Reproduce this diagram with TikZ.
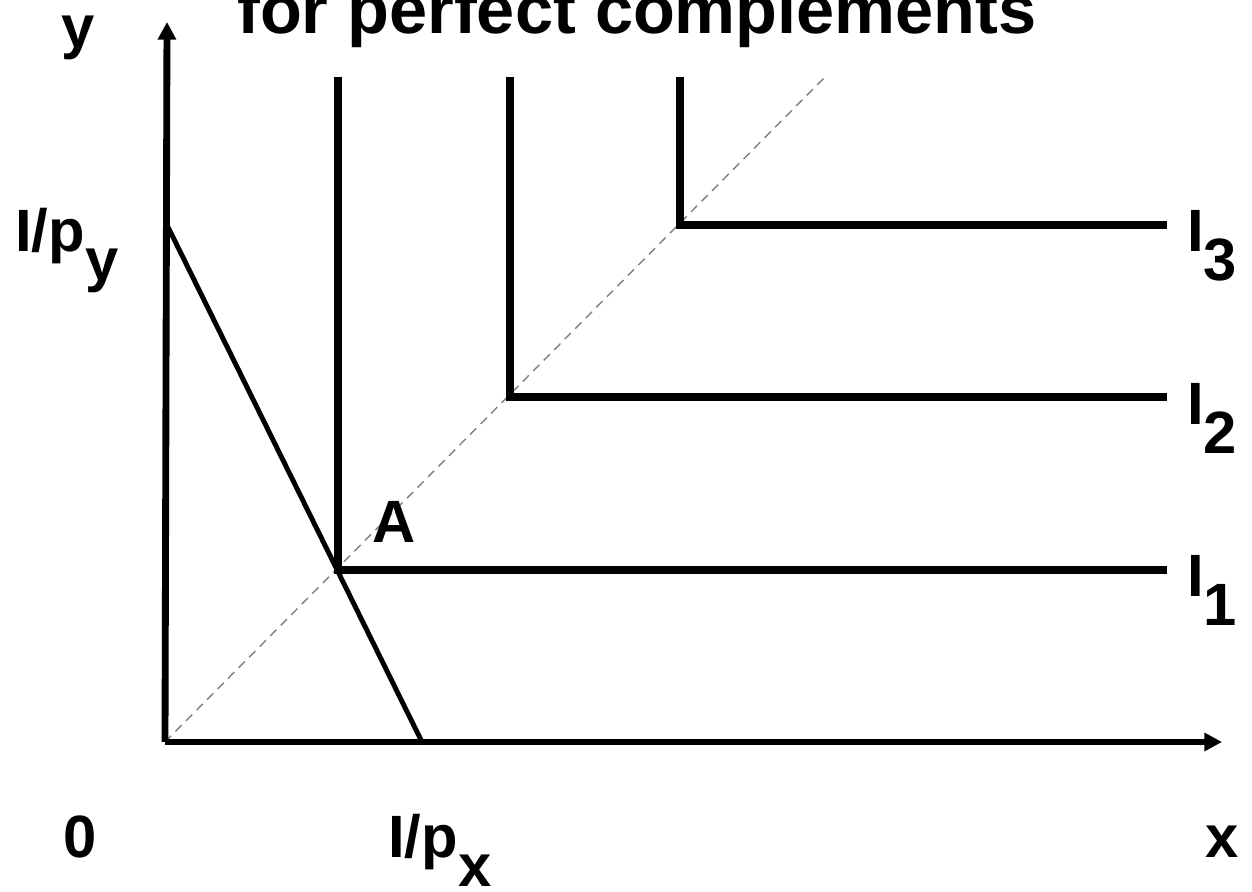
\documentclass[tikz,border=0pt]{standalone}
\usepackage{fontspec}
\setmainfont{Liberation Sans}
\usetikzlibrary{arrows.meta,positioning,calc}
\newcommand{\lowsub}[1]{\raisebox{-0.48em}{#1}}

\begin{document}
\begin{tikzpicture}[x=0.02cm,y=0.02cm,lbl/.style={inner sep=0pt,font=\bfseries\fontsize{34}{40}\selectfont},axis/.style={line width=3.9pt,-{Triangle[length=10pt,width=10pt]}},icurve/.style={line width=4pt},bline/.style={line width=2.8pt},diag/.style={dash pattern=on 5pt off 3.5pt,gray,line width=0.8pt}]
\useasboundingbox (0,0) rectangle (1252,892);
\coordinate (O) at (165,150); \coordinate (ytop) at (167,870); \coordinate (xend) at (1222,150);
\coordinate (by) at (167,667); \coordinate (bx) at (422,150); \coordinate (d) at (825,815);
\coordinate (c1) at (338,322); \coordinate (t1) at (338,815); \coordinate (e1) at (1167,322);
\coordinate (c2) at (510,495); \coordinate (t2) at (510,815); \coordinate (e2) at (1167,495);
\coordinate (c3) at (680,667); \coordinate (t3) at (680,815); \coordinate (e3) at (1167,667);
\node[lbl,anchor=base] (title) at (637,858) {\fontsize{39}{44}\selectfont for perfect complements};
\draw[diag](O)--(d);
\draw[bline](by)--(bx);
\draw[icurve](t1)--(c1)--(e1); \draw[icurve](t2)--(c2)--(e2); \draw[icurve](t3)--(c3)--(e3);
\draw[axis](O)--(ytop); \draw[axis](O)--(xend);
\node[lbl,anchor=base] (ylab) at (78,844) {y};
\node[lbl,anchor=base] (zero) at (80,34) {0};
\node[lbl,anchor=base] (xlab) at (1222,34) {x};
\node[lbl,anchor=base west] (py) at (15,640) {I/p\lowsub{y}};
\node[lbl,anchor=base west] (px) at (388,34) {I/p\lowsub{x}};
\node[lbl,anchor=base] (A) at (394,349) {A};
\node[lbl,anchor=base west] (i1) at (1187,295) {I\lowsub{1}};
\node[lbl,anchor=base west] (i2) at (1187,467) {I\lowsub{2}};
\node[lbl,anchor=base west] (i3) at (1187,640) {I\lowsub{3}};
\end{tikzpicture}
\end{document}
